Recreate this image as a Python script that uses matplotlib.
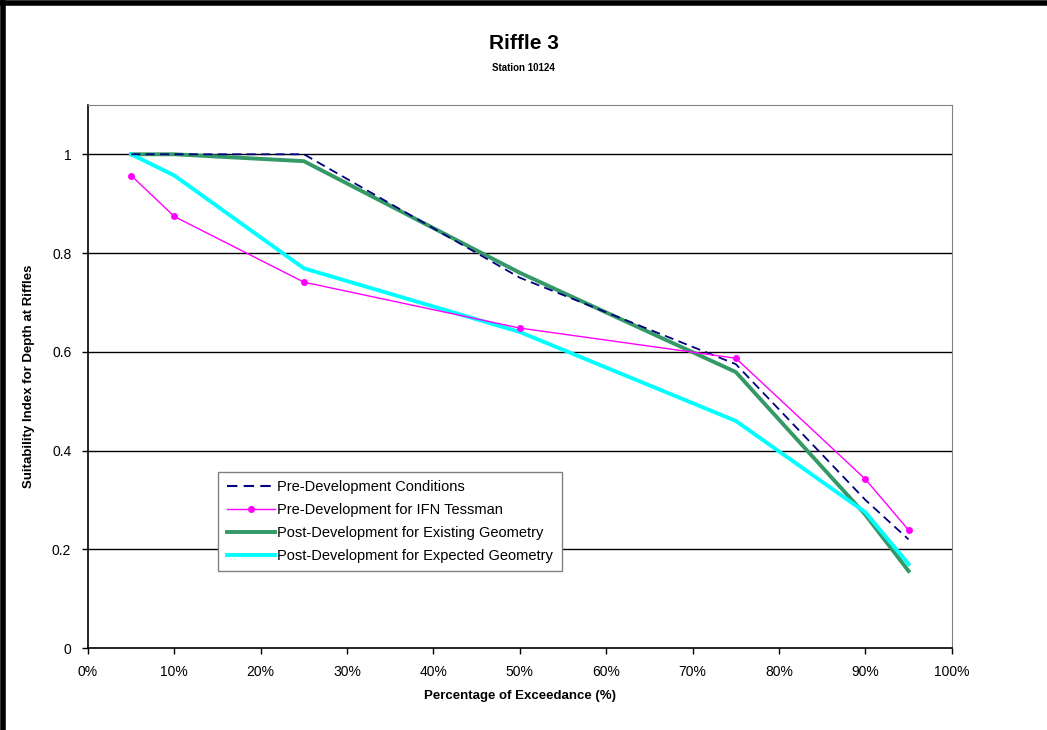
import matplotlib
matplotlib.use('Agg')
import matplotlib.pyplot as plt
from matplotlib.lines import Line2D
from matplotlib.ticker import FuncFormatter

plt.rcParams.update({
    'font.family': ['Liberation Sans', 'DejaVu Sans'],
    'font.size': 9,
})

exceedance = [5, 10, 25, 50, 75, 90, 95]
pre_dev = [1.0, 1.0, 1.0, 0.75, 0.575, 0.30, 0.22]
pre_dev_ifn = [0.957, 0.874, 0.741, 0.648, 0.587, 0.342, 0.239]
post_existing = [1.0, 1.0, 0.986, 0.76, 0.559, 0.27, 0.156]
post_expected = [1.0, 0.957, 0.769, 0.64, 0.46, 0.275, 0.17]

series_labels = [
    'Pre-Development Conditions',
    'Pre-Development for IFN Tessman',
    'Post-Development for Existing Geometry',
    'Post-Development for Expected Geometry',
]

fig = plt.figure(figsize=(10.47, 7.30), dpi=100)
ax = fig.add_axes([0.084, 0.1123, 0.825, 0.744])

for y in [0.2, 0.4, 0.6, 0.8, 1.0]:
    ax.axhline(y, color='black', linewidth=1.0, zorder=1)

ax.plot(exceedance, pre_dev, color='#000080', linestyle=(0, (5, 3)),
        linewidth=1.3, zorder=3, label=series_labels[0])
ax.plot(exceedance, pre_dev_ifn, color='#FF00FF', linewidth=1.0,
        marker='o', markersize=4, zorder=4, label=series_labels[1])
ax.plot(exceedance, post_existing, color='#339966', linewidth=2.8,
        zorder=2, label=series_labels[2])
ax.plot(exceedance, post_expected, color='#00FFFF', linewidth=2.8,
        zorder=2.5, label=series_labels[3])

ax.set_xlim(0, 100)
ax.set_ylim(0, 1.1)
ax.set_xticks(range(0, 101, 10))
ax.xaxis.set_major_formatter(FuncFormatter(lambda v, p: f'{v:.0f}%'))
ax.set_yticks([0, 0.2, 0.4, 0.6, 0.8, 1.0])
ax.yaxis.set_major_formatter(FuncFormatter(lambda v, p: f'{v:g}'))
ax.tick_params(direction='out', length=4, width=1, labelsize=10, pad=8)

for side in ['top', 'right']:
    ax.spines[side].set_color('#808080')
ax.spines['left'].set_linewidth(1.2)
ax.spines['bottom'].set_linewidth(1.2)

ax.set_xlabel('Percentage of Exceedance (%)', fontsize=9.5,
              fontweight='bold', labelpad=8)
ax.set_ylabel('Suitability Index for Depth at Riffles', fontsize=9.5,
              fontweight='bold', labelpad=12)

fig.text(0.5, 0.94, 'Riffle 3', ha='center', va='center',
         fontsize=15, fontweight='bold')
fig.text(0.5, 0.907, 'Station 10124', ha='center', va='center',
         fontsize=7, fontweight='bold')

handles = [
    Line2D([], [], color='#000080', linestyle=(0, (5, 3)), linewidth=1.5),
    Line2D([], [], color='#FF00FF', linewidth=1.0, marker='o', markersize=4),
    Line2D([], [], color='#339966', linewidth=2.8),
    Line2D([], [], color='#00FFFF', linewidth=2.8),
]
leg = ax.legend(handles, series_labels, loc='upper left',
                bbox_to_anchor=(0.142, 0.338), fontsize=10.5, frameon=True,
                fancybox=False, edgecolor='#808080', framealpha=1,
                handlelength=3.3, handletextpad=0.15, labelspacing=0.6,
                borderpad=0.6)
leg.get_frame().set_linewidth(1.0)

# outer chart border (top and left edges)
fig.add_artist(Line2D([0.0025, 0.0025], [0, 1], color='black', linewidth=4,
                      transform=fig.transFigure))
fig.add_artist(Line2D([0, 1], [0.9965, 0.9965], color='black', linewidth=4,
                      transform=fig.transFigure))

fig.savefig('out.png', dpi=100)
